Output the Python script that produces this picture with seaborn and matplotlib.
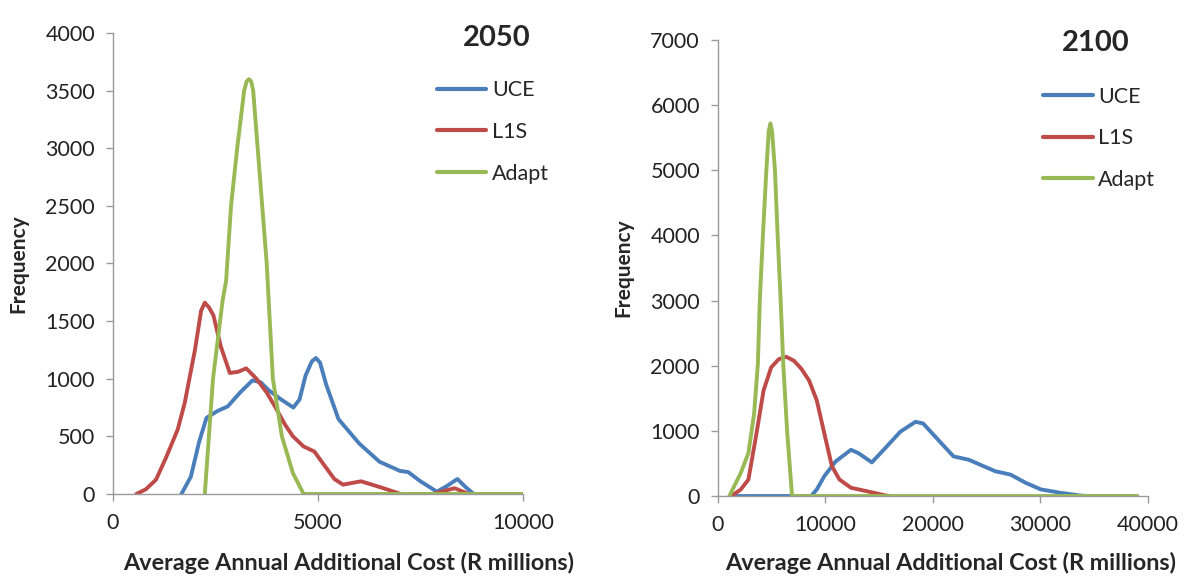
import pandas as pd
import numpy as np
import matplotlib.pyplot as plt
import seaborn as sns

# === Datos 2050
uce50_x = [1670, 1900, 2100, 2280, 2550, 2800, 3100, 3400, 3600, 3800, 4100, 4400, 4550, 4700, 4850, 4950, 5050, 5200, 5500, 6000, 6500, 7000, 7200, 7500, 7900, 8150, 8400, 8600, 8800, 10000]
uce50_y = [0, 150, 450, 660, 720, 760, 880, 985, 970, 900, 820, 750, 820, 1030, 1150, 1180, 1140, 950, 650, 440, 280, 200, 190, 110, 20, 70, 130, 60, 0, 0]

l1s50_x = [570, 800, 1050, 1300, 1580, 1750, 2000, 2150, 2240, 2340, 2450, 2630, 2850, 3050, 3250, 3500, 3750, 3950, 4200, 4390, 4650, 4910, 5175, 5400, 5610, 6050, 6580, 7020, 7800, 8330, 8680, 10000]
l1s50_y = [0, 40, 124, 320, 560, 790, 1250, 1590, 1660, 1620, 1550, 1280, 1050, 1060, 1090, 1000, 880, 760, 600, 500, 412, 369, 239, 130, 81, 110, 52, 0, 0, 50, 0, 0]

adapt50_x = [2240, 2440, 2675, 2760, 2880, 3030, 3200, 3260, 3316, 3370, 3420, 3530, 3640, 3750, 3900, 4120, 4390, 4650, 5000, 10000]
adapt50_y = [0, 1000, 1680, 1850, 2500, 3000, 3500, 3580, 3600, 3580, 3500, 3000, 2500, 2000, 1000, 500, 180, 0, 0, 0]

# === Datos 2100
uce00_x = [1200, 5000, 8660, 9190, 9890, 10950, 12370, 13070, 14310, 15550, 16960, 18370, 19080, 20490, 21910, 23320, 24380, 25800, 27210, 28620, 30040, 31800, 33570, 34280, 39000]
uce00_y = [0, 0, 0, 100, 304, 532, 709, 658, 516, 734, 987, 1139, 1114, 861, 608, 557, 481, 380, 329, 203, 101, 51, 10, 0, 0]

l1s00_x = [1240, 2120, 2830, 3530, 4240, 4950, 5650, 6360, 7070, 7770, 8480, 9190, 9890, 10600, 11300, 12370, 13780, 15550, 16000]
l1s00_y = [0, 100, 253, 911, 1620, 1975, 2100, 2137, 2076, 1950, 1772, 1468, 962, 456, 253, 127, 76, 10, 0]

adapt00_x = [1060, 2120, 2830, 3360, 3710, 3890, 4180, 4500, 4720, 4876, 5030, 5300, 5550, 5830, 6080, 6430, 6890, 10000, 39000]
adapt00_y = [0, 354, 658, 1266, 2025, 3000, 4000, 5000, 5600, 5720, 5600, 5000, 4000, 3000, 2000, 1000, 0, 0, 0]

series = ["UCE", "L1S", "Adapt"]
colores = {"UCE": "#4A7EBB", "L1S": "#BE4B48", "Adapt": "#98B954"}

sns.set_style("white")
plt.rcParams["font.family"] = ["Lato", "DejaVu Sans"]

fig = plt.figure(figsize=(11.84, 5.85), dpi=100)
ax1 = fig.add_axes([0.0954, 0.1556, 0.3463, 0.788])
ax2 = fig.add_axes([0.6064, 0.1521, 0.3632, 0.7795])


def armar(xs, ys):
    filas = []
    for nombre, x, y in zip(series, xs, ys):
        filas.append(pd.DataFrame({"x": x, "y": y, "serie": nombre}))
    return pd.concat(filas, ignore_index=True)


df50 = armar([uce50_x, l1s50_x, adapt50_x], [uce50_y, l1s50_y, adapt50_y])
df00 = armar([uce00_x, l1s00_x, adapt00_x], [uce00_y, l1s00_y, adapt00_y])

# (eje, datos, titulo, xlim, xticks, ylim, yticks, pos titulo, pos leyenda, pos xlabel)
paneles = [
    (ax1, df50, "2050", (0, 10000), [0, 5000, 10000], (0, 4000), np.arange(0, 4001, 500),
     (0.937, 0.99), (0.79, 0.897), (0.576, -0.125)),
    (ax2, df00, "2100", (0, 40000), [0, 10000, 20000, 30000, 40000], (0, 7000), np.arange(0, 7001, 1000),
     (0.879, 0.993), (0.756, 0.898), (0.54, -0.123)),
]

for ax, df, titulo, xlim, xticks, ylim, yticks, pos_t, pos_l, pos_x in paneles:
    sns.lineplot(data=df, x="x", y="y", hue="serie", hue_order=series, palette=colores,
                 linewidth=2.8, sort=False, estimator=None, ax=ax)
    ax.set_xlim(*xlim)
    ax.set_ylim(*ylim)
    ax.set_xticks(xticks)
    ax.set_yticks(yticks)
    ax.tick_params(axis="both", labelsize=15.5, colors="#222222", length=5, width=1,
                   direction="out", left=True, bottom=True)
    ax.tick_params(axis="x", pad=9, color="#9a9a9a")
    ax.tick_params(axis="y", pad=8, color="#9a9a9a")
    for lado in ["top", "right"]:
        ax.spines[lado].set_visible(False)
    for lado in ["left", "bottom"]:
        ax.spines[lado].set_color("#9a9a9a")
        ax.spines[lado].set_linewidth(1)
    ax.set_xlabel("Average Annual Additional Cost (R millions)", fontsize=16.8, fontweight="bold")
    ax.xaxis.set_label_coords(*pos_x)
    ax.set_ylabel("Frequency", fontsize=15, fontweight="bold", labelpad=12)
    ax.text(pos_t[0], pos_t[1], titulo, transform=ax.transAxes, fontsize=21, fontweight="bold",
            ha="center", va="center")
    leg = ax.legend(frameon=False, fontsize=15.5, handlelength=2.3, handletextpad=0.25,
                    labelspacing=1.0, loc="upper left", bbox_to_anchor=pos_l,
                    borderaxespad=0, borderpad=0)
    for linea in leg.get_lines():
        linea.set_linewidth(3)

fig.savefig("out.png", dpi=100)
